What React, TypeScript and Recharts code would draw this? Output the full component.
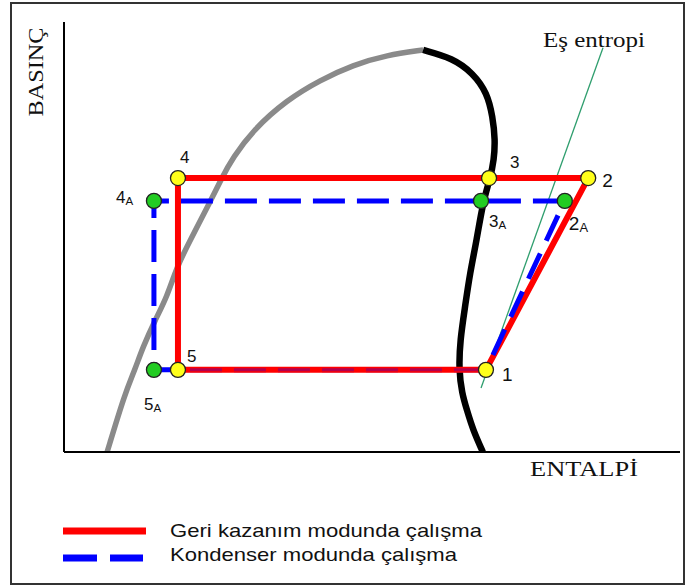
import React from "react";
import {
  ComposedChart,
  Line,
  Scatter,
  XAxis,
  YAxis,
} from "recharts";

// Saturation dome (enthalpy h, pressure P in relative units 0..100)
const liquidLine = [
  { h: 7.0, P: 0 },
  { h: 9.9, P: 13.7 },
  { h: 11.5, P: 19.1 },
  { h: 12.8, P: 24.4 },
  { h: 14.8, P: 30.7 },
  { h: 16.7, P: 36.0 },
  { h: 18.3, P: 43.0 },
  { h: 20.5, P: 49.3 },
  { h: 23.7, P: 58.1 },
  { h: 25.6, P: 63.7 },
  { h: 27.4, P: 68.4 },
  { h: 30.7, P: 74.9 },
  { h: 36.2, P: 81.9 },
  { h: 41.6, P: 86.5 },
  { h: 46.9, P: 90.0 },
  { h: 52.4, P: 92.3 },
  { h: 58.3, P: 93.5 },
];

const vaporLine = [
  { h: 58.3, P: 93.5 },
  { h: 63.1, P: 91.6 },
  { h: 66.4, P: 88.1 },
  { h: 68.7, P: 83.5 },
  { h: 69.6, P: 77.9 },
  { h: 70.0, P: 72.6 },
  { h: 69.8, P: 67.9 },
  { h: 69.2, P: 63.7 },
  { h: 68.0, P: 58.1 },
  { h: 67.0, P: 49.3 },
  { h: 65.9, P: 41.6 },
  { h: 65.1, P: 33.7 },
  { h: 64.3, P: 26.0 },
  { h: 64.1, P: 19.1 },
  { h: 64.6, P: 13.7 },
  { h: 65.4, P: 9.8 },
  { h: 66.4, P: 5.1 },
  { h: 68.0, P: 0 },
];

const isentrope = [
  { h: 67.7, P: 14.9 },
  { h: 87.5, P: 94.0 },
];

// State points of the two operating modes
const recoveryPoints = [
  { name: "4", h: 18.5, P: 63.7 },
  { name: "3", h: 69.0, P: 63.7 },
  { name: "2", h: 85.1, P: 63.7 },
  { name: "1", h: 68.5, P: 19.1 },
  { name: "5", h: 18.5, P: 19.1 },
];

const condenserPoints = [
  { name: "4A", h: 14.6, P: 58.4 },
  { name: "3A", h: 67.7, P: 58.4 },
  { name: "2A", h: 81.3, P: 58.4 },
  { name: "5A", h: 14.6, P: 19.1 },
];

// Recovery cycle 4 -> 2 -> 1 -> 5 -> 4; condenser cycle 2A -> 1 -> 5A -> 4A -> 2A
const recoveryCycle = ["4", "2", "1", "5", "4"];
const condenserCycle = ["1", "5A", "4A", "2A"];
const condenserCompression = ["2A", "1"];

const legendLabels = ["Geri kazanım modunda çalışma", "Kondenser modunda çalışma"];

const allPoints = [...recoveryPoints, ...condenserPoints];
const byName = (n: string) => allPoints.find((p) => p.name === n)!;
const recoveryPath = recoveryCycle.map(byName);
const condenserPath = condenserCycle.map(byName);
const compressionPath = condenserCompression.map(byName);
const overlapPath = [byName("1"), byName("5A")];

// label placement relative to the dot centre
const labelStyle: Record<string, { dx: number; dy: number; size: number }> = {
  "4": { dx: 2, dy: -15, size: 17 },
  "3": { dx: 21, dy: -10, size: 17 },
  "2": { dx: 14, dy: 9, size: 19 },
  "1": { dx: 16, dy: 11, size: 19 },
  "5": { dx: 9, dy: -8, size: 17 },
  "4A": { dx: -38, dy: 2, size: 17 },
  "3A": { dx: 8, dy: 26, size: 17 },
  "2A": { dx: 4, dy: 29, size: 19 },
  "5A": { dx: -10, dy: 40, size: 17 },
};

const W = 694;
const H = 587;

const StatePoint = (fill: string) => (props: any) => {
  const { cx, cy, payload } = props;
  const name: string = payload.name;
  const st = labelStyle[name];
  const digit = name.charAt(0);
  const sub = name.slice(1);
  return (
    <g>
      <circle cx={cx} cy={cy} r={7.5} fill={fill} stroke="#222" strokeWidth={1.3} />
      <text
        x={cx + st.dx}
        y={cy + st.dy}
        fontFamily="'Liberation Sans', Arial, sans-serif"
        fontSize={st.size}
        fill="#111"
      >
        {digit}
        {sub && (
          <tspan fontSize={st.size * 0.68} dy={2}>
            {sub}
          </tspan>
        )}
      </text>
    </g>
  );
};

const serif = "'Liberation Serif', 'Times New Roman', serif";
const sans = "'Liberation Sans', Arial, sans-serif";

export default function App() {
  return (
    <div style={{ position: "absolute", left: 0, top: 0, width: W, height: H, background: "#fff" }}>
      <ComposedChart
        width={W}
        height={H}
        margin={{ top: 22, right: 14, bottom: 134, left: 63 }}
      >
        <XAxis
          type="number"
          dataKey="h"
          domain={[0, 100]}
          allowDataOverflow
          height={1}
          tick={false}
          tickLine={false}
          axisLine={{ stroke: "#000", strokeWidth: 2 }}
        />
        <YAxis
          type="number"
          dataKey="P"
          domain={[0, 100]}
          allowDataOverflow
          width={1}
          tick={false}
          tickLine={false}
          axisLine={{ stroke: "#000", strokeWidth: 2 }}
        />
        <Line
          data={liquidLine}
          dataKey="P"
          type="basis"
          stroke="#8a8a8a"
          strokeWidth={5.5}
          dot={false}
          activeDot={false}
          isAnimationActive={false}
        />
        <Line
          data={vaporLine}
          dataKey="P"
          type="basis"
          stroke="#000"
          strokeWidth={6.5}
          dot={false}
          activeDot={false}
          isAnimationActive={false}
        />
        <Line
          data={isentrope}
          dataKey="P"
          type="linear"
          stroke="#2f9e6e"
          strokeWidth={1.3}
          dot={false}
          activeDot={false}
          isAnimationActive={false}
        />
        <Line
          data={condenserPath}
          dataKey="P"
          type="linear"
          stroke="#0000ff"
          strokeWidth={5}
          strokeDasharray="32 12"
          dot={false}
          activeDot={false}
          isAnimationActive={false}
        />
        <Line
          data={recoveryPath}
          dataKey="P"
          type="linear"
          stroke="#ff0000"
          strokeWidth={6}
          dot={false}
          activeDot={false}
          isAnimationActive={false}
        />
        {/* blue dashes showing through along the shared 1-5 segment */}
        <Line
          data={overlapPath}
          dataKey="P"
          type="linear"
          stroke="#0000ff"
          strokeOpacity={0.3}
          strokeWidth={3}
          strokeDasharray="32 12"
          dot={false}
          activeDot={false}
          isAnimationActive={false}
        />
        <Scatter
          data={condenserPoints}
          dataKey="P"
          shape={StatePoint("#22cc22")}
          isAnimationActive={false}
        />
        <Scatter
          data={recoveryPoints}
          dataKey="P"
          shape={StatePoint("#ffff1a")}
          isAnimationActive={false}
        />
        {/* condenser-mode compression 2A -> 1 sits on top of the red line */}
        <Line
          data={compressionPath}
          dataKey="P"
          type="linear"
          stroke="#0000ff"
          strokeWidth={5}
          strokeDasharray="28 14"
          strokeDashoffset={26}
          dot={false}
          activeDot={false}
          isAnimationActive={false}
        />
      </ComposedChart>

      <svg
        width={W}
        height={H}
        style={{ position: "absolute", left: 0, top: 0, pointerEvents: "none" }}
      >
        <rect x={11} y={3} width={673} height={581} fill="none" stroke="#333" strokeWidth={2} />
        <text
          x={0}
          y={0}
          transform="translate(43 72) rotate(-90)"
          textAnchor="middle"
          fontFamily={serif}
          fontSize={20}
          textLength={89}
          lengthAdjust="spacingAndGlyphs"
          fill="#111"
        >
          BASINÇ
        </text>
        <text
          x={530}
          y={476}
          fontFamily={serif}
          fontSize={20}
          textLength={108}
          lengthAdjust="spacingAndGlyphs"
          fill="#111"
        >
          ENTALPİ
        </text>
        <text
          x={543}
          y={47}
          fontFamily={serif}
          fontSize={20}
          textLength={102}
          lengthAdjust="spacingAndGlyphs"
          fill="#111"
        >
          Eş entropi
        </text>

        <line x1={63} y1={531} x2={146} y2={531} stroke="#ff0000" strokeWidth={7} />
        <line
          x1={63}
          y1={558}
          x2={143}
          y2={558}
          stroke="#0000ff"
          strokeWidth={7}
          strokeDasharray="34 13"
        />
        <text
          x={170}
          y={537}
          fontFamily={sans}
          fontSize={19}
          textLength={312}
          lengthAdjust="spacingAndGlyphs"
          fill="#111"
        >
          {legendLabels[0]}
        </text>
        <text
          x={170}
          y={561}
          fontFamily={sans}
          fontSize={19}
          textLength={287}
          lengthAdjust="spacingAndGlyphs"
          fill="#111"
        >
          {legendLabels[1]}
        </text>
      </svg>
    </div>
  );
}
